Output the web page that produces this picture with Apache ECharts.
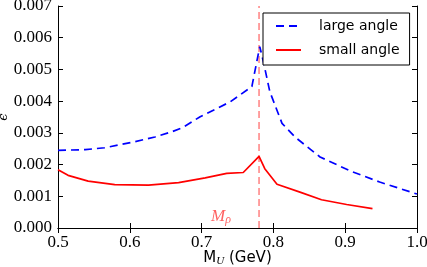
<!DOCTYPE html>
<html>
<head>
<meta charset="utf-8">
<script src="https://cdn.jsdelivr.net/npm/echarts@6/dist/echarts.min.js"></script>
<style>html,body{margin:0;padding:0;background:#fff}#c{width:427px;height:267px}</style>
</head>
<body>
<div id="c"></div>
<script>
const largeAngleX = [0.50,0.538,0.565,0.607,0.635,0.658,0.674,0.698,0.740,0.770,0.781,0.786,0.795,0.812,0.830,0.865,0.907,0.948,1.00];
const largeAngleY = [2.45,2.47,2.53,2.72,2.87,3.03,3.17,3.51,3.98,4.46,5.72,5.25,4.30,3.30,2.87,2.24,1.80,1.45,1.07].map(v => v / 1000);
const smallAngleX = [0.50,0.514,0.542,0.579,0.626,0.668,0.705,0.735,0.758,0.780,0.788,0.805,0.837,0.867,0.902,0.938];
const smallAngleY = [1.84,1.66,1.48,1.37,1.35,1.43,1.58,1.72,1.75,2.26,1.87,1.38,1.13,0.89,0.74,0.61].map(v => v / 1000);
const rhoMass = 0.78;
const rhoLabelAt = [0.727, 0.00037];
const xTicks = [0.5, 0.6, 0.7, 0.8, 0.9, 1.0];
const yTicks = [0, 0.001, 0.002, 0.003, 0.004, 0.005, 0.006, 0.007];

const chart = echarts.init(document.getElementById('c'), null, {renderer: 'canvas'});
const serif = '"Liberation Serif", "DejaVu Serif", serif';
const sans = '"DejaVu Sans", sans-serif';
const axisCommon = {
  axisLine: {show: true, lineStyle: {color: '#000', width: 1}},
  axisTick: {show: true, inside: true, length: 5, lineStyle: {color: '#000', width: 1}},
  splitLine: {show: false}
};
const option = {
  animation: false,
  backgroundColor: '#fff',
  grid: {left: 58, right: 10, top: 6, bottom: 39, containLabel: false, outerBoundsMode: 'none'},
  legend: {
    data: ['large angle', 'small angle'],
    orient: 'vertical', left: 263, top: 13, align: 'left',
    itemWidth: 25, itemHeight: 14, itemGap: 10,
    padding: [6, 10, 8, 12],
    backgroundColor: '#fff', borderColor: '#000', borderWidth: 1, borderRadius: 0,
    itemStyle: {color: 'rgba(0,0,0,0)', borderWidth: 0, opacity: 0},
    textStyle: {fontFamily: sans, fontSize: 14, color: '#000', padding: [0, 0, 0, 13]}
  },
  xAxis: [
    Object.assign({}, axisCommon, {
      type: 'value', min: xTicks[0], max: xTicks[xTicks.length - 1], interval: 0.1, position: 'bottom',
      axisLabel: {fontFamily: serif, fontSize: 17, color: '#000', margin: 6, formatter: v => v.toFixed(1)},
      name: '{m|M}{u|U}{m| (GeV)}', nameLocation: 'middle', nameGap: 21, nameMoveOverlap: false,
      nameTextStyle: {rich: {
        m: {fontFamily: sans, fontSize: 15, color: '#000'},
        u: {fontFamily: serif, fontStyle: 'italic', fontSize: 11, color: '#000', padding: [7, 0, 0, 0]}
      }}
    }),
    Object.assign({}, axisCommon, {
      type: 'value', min: xTicks[0], max: xTicks[xTicks.length - 1], interval: 0.1, position: 'top',
      axisLabel: {show: false}
    })
  ],
  yAxis: [
    Object.assign({}, axisCommon, {
      type: 'value', min: yTicks[0], max: yTicks[yTicks.length - 1], interval: 0.001, position: 'left',
      axisLabel: {fontFamily: serif, fontSize: 17, color: '#000', margin: 6, formatter: v => v.toFixed(3)},
      name: '\u03F5', nameLocation: 'middle', nameRotate: 90, nameGap: 48, nameMoveOverlap: false,
      nameTextStyle: {fontFamily: '"DejaVu Serif", serif', fontStyle: 'italic', fontSize: 13, color: '#000'}
    }),
    Object.assign({}, axisCommon, {
      type: 'value', min: yTicks[0], max: yTicks[yTicks.length - 1], interval: 0.001, position: 'right',
      axisLabel: {show: false}
    })
  ],
  series: [
    {
      name: 'rho', type: 'line', symbol: 'none', silent: true,
      data: [[rhoMass, yTicks[0]], [rhoMass, yTicks[yTicks.length - 1]]],
      lineStyle: {color: '#ff8080', width: 1.5, type: [7, 4]}, z: 1
    },
    {
      name: 'rhoLabel', type: 'scatter', symbol: 'circle', symbolSize: 0, silent: true,
      data: [rhoLabelAt],
      itemStyle: {color: 'rgba(0,0,0,0)'},
      label: {show: true, position: 'inside', formatter: '{m|M}{r|\u03C1}',
        rich: {
          m: {fontFamily: serif, fontStyle: 'italic', fontSize: 17, color: '#ff3a3a'},
          r: {fontFamily: serif, fontStyle: 'italic', fontSize: 12, color: '#ff3a3a', padding: [8, 0, 0, 0]}
        }}
    },
    {
      name: 'large angle', type: 'line', symbol: 'none', smooth: false,
      data: largeAngleX.map((x, i) => [x, largeAngleY[i]]),
      lineStyle: {color: '#0000ff', width: 1.7, type: [8, 5]},
      itemStyle: {color: '#0000ff'}, z: 3
    },
    {
      name: 'small angle', type: 'line', symbol: 'none', smooth: false,
      data: smallAngleX.map((x, i) => [x, smallAngleY[i]]),
      lineStyle: {color: '#ff0000', width: 1.7},
      itemStyle: {color: '#ff0000'}, z: 3
    }
  ]
};
chart.setOption(option);
</script>
</body>
</html>
